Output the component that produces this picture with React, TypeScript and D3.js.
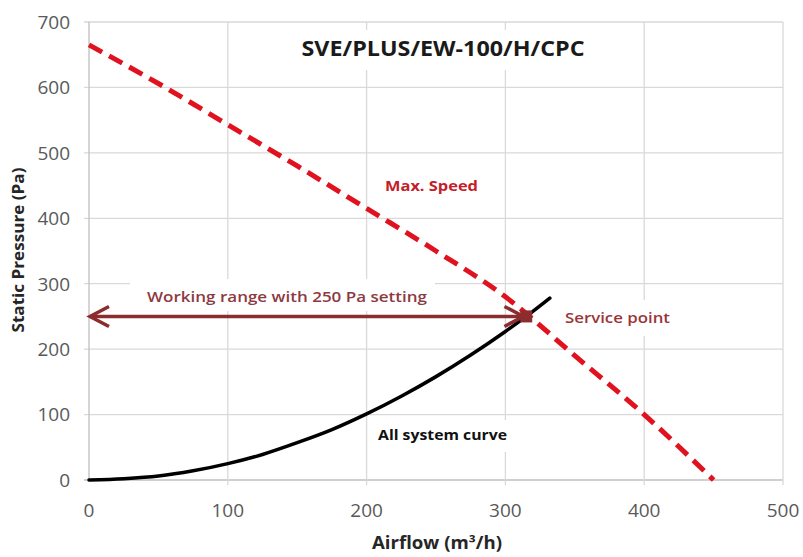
import React from "react";
import * as d3 from "d3";

const xTicks = [0, 100, 200, 300, 400, 500];
const yTicks = [0, 100, 200, 300, 400, 500, 600, 700];

const maxSpeedFlow = [0, 50, 100, 150, 200, 250, 300, 350, 400, 450];
const maxSpeedPressure = [665, 606, 543, 480, 415, 350, 280, 190, 100, 0];

const systemFlow = [0, 25, 50, 75, 100, 125, 150, 175, 200, 225, 250, 275, 300, 315, 332];
const systemPressure = [0, 2, 6, 14, 25, 39, 57, 77, 101, 128, 158, 191, 227, 250, 278];

const servicePoint = { flow: 315, pressure: 250 };
const workingRange = { from: 0, to: 313, pressure: 250 };

const title = "SVE/PLUS/EW-100/H/CPC";
const xLabel = "Airflow (m³/h)";
const yLabel = "Static Pressure (Pa)";

const FONT = "'Open Sans', 'DejaVu Sans', sans-serif";

export default function App() {
  const W = 803, H = 557;
  const x = d3.scaleLinear().domain([0, 500]).range([89, 783]);
  const y = d3.scaleLinear().domain([0, 700]).range([480, 22]);

  const redData = maxSpeedFlow.map((f, i) => [f, maxSpeedPressure[i]] as [number, number]);
  const blackData = systemFlow.map((f, i) => [f, systemPressure[i]] as [number, number]);
  const line = d3
    .line<[number, number]>()
    .x((d) => x(d[0]))
    .y((d) => y(d[1]))
    .curve(d3.curveMonotoneX);

  const ay = y(workingRange.pressure);
  const ax0 = x(workingRange.from);
  const ax1 = x(workingRange.to);
  const arrowColor = "#8b2c2f";

  return (
    <div style={{ position: "absolute", left: 0, top: 0 }}>
      <svg width={W} height={H} style={{ display: "block", background: "#fff" }}>
        {/* grid */}
        {yTicks.map((t) => (
          <line key={"gy" + t} x1={x(0) - 5} x2={x(500)} y1={y(t)} y2={y(t)}
            stroke={t === 0 ? "#bfbfbf" : "#d9d9d9"} strokeWidth={1.3} />
        ))}
        {xTicks.map((t) => (
          <line key={"gx" + t} x1={x(t)} x2={x(t)} y1={y(700)} y2={y(0) + (t === 0 ? 0 : 5)}
            stroke={t === 0 ? "#bfbfbf" : "#d9d9d9"} strokeWidth={1.3} />
        ))}

        {/* label boxes (white) */}
        <rect x={296} y={30} width={296} height={40} fill="#fff" />
        <rect x={130} y={279} width={305} height={32} fill="#fff" />
        <rect x={548} y={300} width={165} height={36} fill="#fff" />
        <rect x={370} y={420} width={145} height={32} fill="#fff" />
        <rect x={378} y={172} width={106} height={28} fill="#fff" />

        {/* tick labels */}
        {yTicks.map((t) => (
          <text key={"ty" + t} x={70} y={y(t)} dy="0.36em" textAnchor="end"
            fontFamily={FONT} fontSize={19} fill="#595959">{t}</text>
        ))}
        {xTicks.map((t) => (
          <text key={"tx" + t} x={x(t)} y={517} textAnchor="middle"
            fontFamily={FONT} fontSize={19} fill="#595959">{t}</text>
        ))}

        {/* axis titles */}
        <text x={437} y={549} textAnchor="middle" fontFamily={FONT} fontSize={17}
          fontWeight={700} fill="#262626" textLength={130} lengthAdjust="spacingAndGlyphs">{xLabel}</text>
        <text transform="translate(24,250) rotate(-90)" textAnchor="middle" fontFamily={FONT}
          fontSize={16} fontWeight={700} fill="#262626" textLength={165} lengthAdjust="spacingAndGlyphs">{yLabel}</text>

        {/* title */}
        <text x={443} y={56} textAnchor="middle" fontFamily={FONT} fontSize={21}
          fontWeight={700} fill="#1a1a1a" textLength={283} lengthAdjust="spacingAndGlyphs">{title}</text>

        {/* system curve */}
        <path d={line(blackData) || ""} fill="none" stroke="#000" strokeWidth={3.5} strokeLinecap="round" />

        {/* max speed curve */}
        <path d={line(redData) || ""} fill="none" stroke="#e0121f" strokeWidth={5}
          strokeDasharray="15 8" />

        {/* working range arrow */}
        <line x1={ax0 + 1} x2={ax1} y1={ay} y2={ay} stroke={arrowColor} strokeWidth={3.5} />
        <polyline points={`${ax0 + 20},${ay - 10} ${ax0 + 1},${ay} ${ax0 + 20},${ay + 10}`}
          fill="none" stroke={arrowColor} strokeWidth={3.5} strokeLinejoin="miter" />
        <polyline points={`${ax1 - 19},${ay - 10} ${ax1},${ay} ${ax1 - 19},${ay + 10}`}
          fill="none" stroke={arrowColor} strokeWidth={3.5} strokeLinejoin="miter" />

        {/* service point */}
        <rect x={x(servicePoint.flow) - 6} y={y(servicePoint.pressure) - 6} width={12} height={12}
          fill="#8b2c2f" />

        {/* labels */}
        <text x={147} y={297} dy="0.35em" fontFamily={FONT} fontSize={15} fontWeight={600}
          fill="#8c3a40" textLength={280} lengthAdjust="spacingAndGlyphs">Working range with 250 Pa setting</text>
        <text x={565} y={318} dy="0.35em" fontFamily={FONT} fontSize={15} fontWeight={600}
          fill="#9b3538" textLength={105} lengthAdjust="spacingAndGlyphs">Service point</text>
        <text x={385} y={186} dy="0.35em" fontFamily={FONT} fontSize={15} fontWeight={700}
          fill="#c41e2a" textLength={93} lengthAdjust="spacingAndGlyphs">Max. Speed</text>
        <text x={378} y={435} dy="0.35em" fontFamily={FONT} fontSize={15} fontWeight={700}
          fill="#111" textLength={129} lengthAdjust="spacingAndGlyphs">All system curve</text>
      </svg>
    </div>
  );
}
